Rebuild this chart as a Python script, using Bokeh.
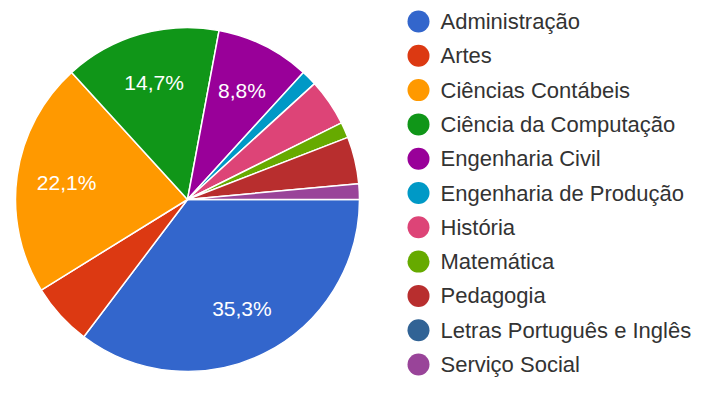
import numpy as np
from bokeh.plotting import figure
from bokeh.models import ColumnDataSource
from bokeh.core.properties import value
from bokeh.embed import file_html
from bokeh.resources import INLINE

# ---- data ----
courses = ["Administração", "Artes", "Ciências Contábeis", "Ciência da Computação",
           "Engenharia Civil", "Engenharia de Produção", "História", "Matemática",
           "Pedagogia", "Letras Português e Inglês", "Serviço Social"]
counts = [24, 4, 15, 10, 6, 1, 3, 1, 3, 0, 1]
colors = ["#3366cc", "#dc3912", "#ff9900", "#109618", "#990099", "#0099c6",
          "#dd4477", "#66aa00", "#b82e2e", "#316395", "#994499"]

W, H = 691, 377
p = figure(width=W, height=H, x_range=(0, W), y_range=(0, H),
           output_backend="svg", toolbar_location=None, min_border=0)
p.axis.visible = False
p.grid.visible = False
p.outline_line_color = None
p.background_fill_color = "white"

# pie geometry (pixels; y measured from the bottom)
cx, cy, R = 187, H - 199, 172

vals = np.array(counts, dtype=float)
frac = vals / vals.sum()
cum = np.concatenate([[0], np.cumsum(frac)])
# clockwise from 3 o'clock
start = -2 * np.pi * cum[1:]
end = -2 * np.pi * cum[:-1]
nz = vals > 0

src = ColumnDataSource(dict(start=start[nz], end=end[nz],
                            color=[c for c, k in zip(colors, nz) if k]))
p.wedge(x=cx, y=cy, radius=R, start_angle="start", end_angle="end",
        fill_color="color", line_color="white", line_width=1.5, source=src)

# slice labels
mid = -2 * np.pi * (cum[:-1] + cum[1:]) / 2
show = frac >= 0.08
lr = 0.71 * R
lx = cx + lr * np.cos(mid[show])
ly = cy + lr * np.sin(mid[show])
labels = [f"{f*100:.1f}%".replace(".", ",") for f in frac[show]]
p.text(x=lx, y=ly, text=labels, text_color="white", text_align="center",
       text_baseline="middle", text_font=value("Liberation Sans"),
       text_font_size="21px")

# legend
n = len(courses)
ly0, step = H - 21, 34.3
leg_y = ly0 - step * np.arange(n)
p.scatter(x=[418] * n, y=leg_y, size=22, fill_color=colors, line_color=None)
p.text(x=[440] * n, y=leg_y, text=courses, text_color="#333333",
       text_align="left", text_baseline="middle",
       text_font=value("Liberation Sans"), text_font_size="22px")

with open("out.html", "w", encoding="utf-8") as f:
    f.write(file_html(p, INLINE))
